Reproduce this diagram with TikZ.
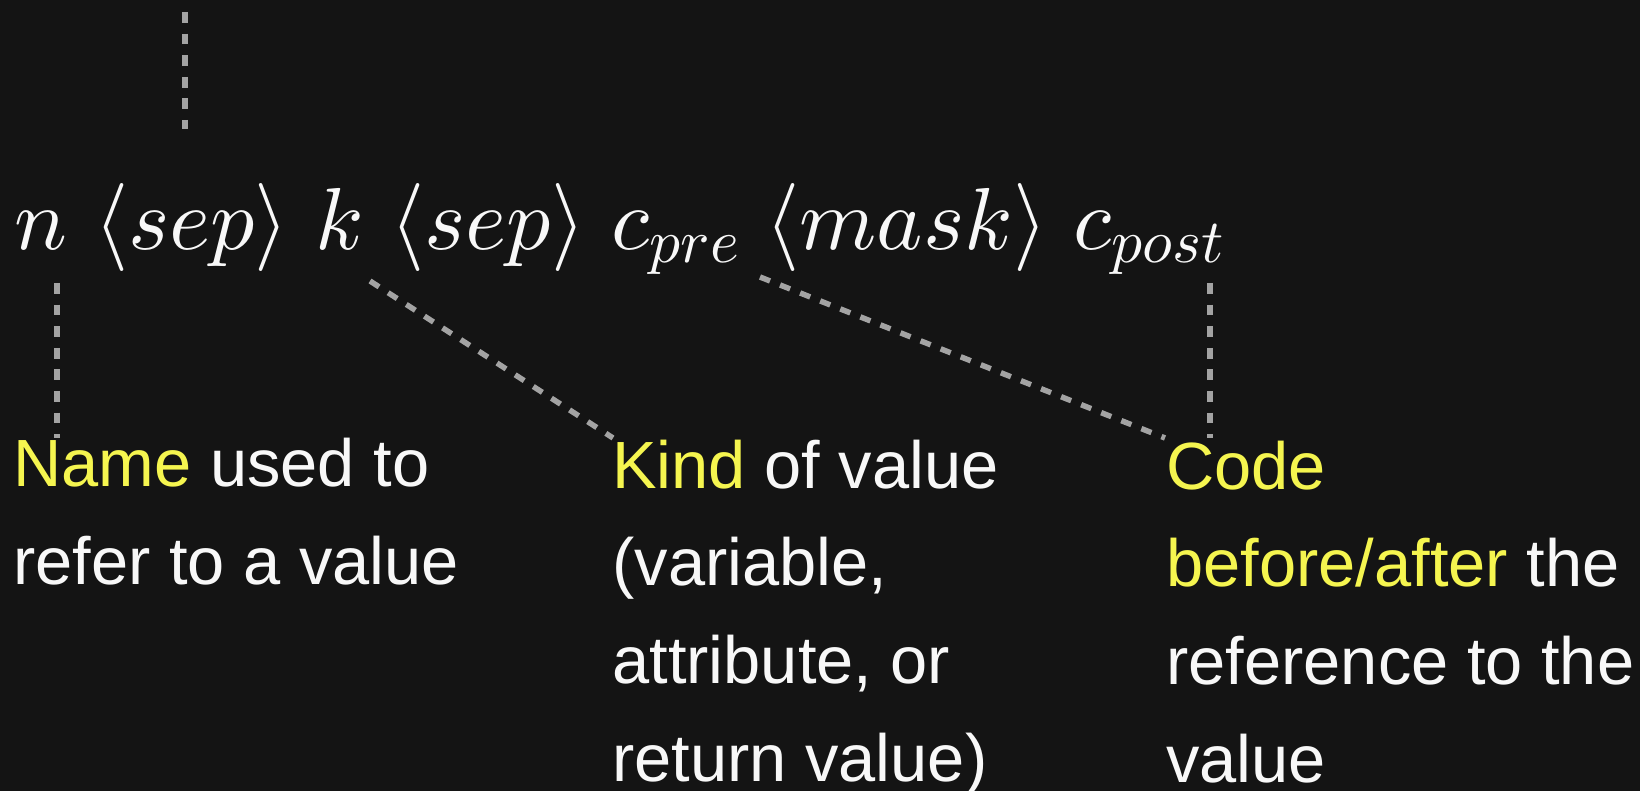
\documentclass[tikz,border=0pt]{standalone}
\usepackage{fontspec}
\setmainfont{Liberation Sans}
\definecolor{bgc}{HTML}{141414}
\definecolor{yel}{HTML}{F5F54F}
\definecolor{wht}{HTML}{F8F8F8}
\definecolor{linec}{HTML}{A3A3A3}
\tikzset{
  leader/.style={draw=linec, line width=2.75pt, dash pattern=on 5.4pt off 5.4pt},
  formula/.style={inner sep=0pt, anchor=base west, text=wht, font=\fontsize{10}{12}\selectfont},
  label/.style={inner sep=0pt, anchor=base west, text=wht, align=left, font=\fontsize{33.4}{48.8}\selectfont},
}
\newcommand{\hl}[1]{\textcolor{yel}{#1}}
\newcommand{\gapsp}{\mkern5.4mu}
\newcommand{\subsc}[1]{\raisebox{-1.45pt}{\scalebox{0.7}{$#1$}}}
\begin{document}
\begin{tikzpicture}[x=0.5pt, y=-0.5pt]
\fill[bgc] (0,0) rectangle (1640,791);
\useasboundingbox (0,0) rectangle (1640,791);

\node[formula] (formula) at (14.5,250) {\scalebox{4.4}{$n\gapsp\langle sep\rangle\gapsp k\gapsp\langle sep\rangle\gapsp c\subsc{pre}\gapsp\langle mask\rangle\gapsp c\subsc{post}$}};

\node[label] (name) at (13,584) {\hl{Name} used to\\refer to a value};
\node[label] (kind) at (612,781) {\hl{Kind} of value\\(variable,\\attribute, or\\return value)};
\node[label] (code) at (1166,782) {\hl{Code}\\\hl{before/after} the\\reference to the\\value};

\coordinate (topa) at (185,12);
\coordinate (topb) at (185,129);
\coordinate (nfoot) at (57,283);
\coordinate (ntop) at (57,438);
\coordinate (kfoot) at (370,281);
\coordinate (kindtop) at (613,438);
\coordinate (cprefoot) at (760,277);
\coordinate (codetop) at (1165,438);
\coordinate (cpostfoot) at (1210,283);
\coordinate (codetopr) at (1210,438);

\draw[leader] (topa) -- (topb);
\draw[leader] (nfoot) -- (ntop);
\draw[leader] (kfoot) -- (kindtop);
\draw[leader] (cprefoot) -- (codetop);
\draw[leader] (cpostfoot) -- (codetopr);
\end{tikzpicture}
\end{document}
